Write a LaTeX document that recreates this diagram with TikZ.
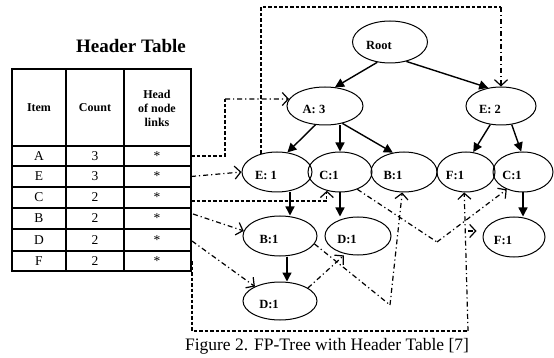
\documentclass[tikz,border=0pt]{standalone}
\usepackage{fontspec}
\setmainfont{Liberation Serif}
\usetikzlibrary{shapes.geometric,arrows.meta}
\tikzset{
  ell/.style={ellipse,draw,line width=1pt,inner sep=0pt},
  labtxt/.style={font=\bfseries\fontsize{12.5}{13}\selectfont,inner sep=0pt,xshift=-11pt,yshift=-3pt},
  lab/.style={label={[labtxt]center:#1}},
  tarr/.style={line width=1.4pt,-{Triangle[length=9pt,width=9pt]}},
  dlink/.style={dash pattern=on 3.5pt off 2pt,line width=1.2pt},
  ddlink/.style={dash pattern=on 5pt off 3pt on 1.2pt off 3pt,line width=1.2pt},
  chev/.style={-{Straight Barb[length=6pt,width=13pt,line width=1.2pt]}},
  tline/.style={line width=1.4pt},
  cell/.style={font=\fontsize{13.5}{13.5}\selectfont,inner sep=0pt},
  hcell/.style={font=\bfseries\fontsize{12}{14}\selectfont,inner sep=0pt,align=center}
}
\begin{document}
\begin{tikzpicture}[x=1pt,y=-1pt]
\useasboundingbox (0,0) rectangle (554,358);
% title
\node[font=\bfseries\fontsize{19}{19}\selectfont] (title) at (131,46) {Header Table};
% table grid
\draw[tline] (12,69) rectangle (191,271);
\foreach \yy in {146,166,187,208,229,251} \draw[tline] (12,\yy) -- (191,\yy);
\foreach \xx in {66,124} \draw[tline] (\xx,69) -- (\xx,271);
\node[hcell] (hItem) at (39,108) {Item};
\node[hcell] (hCount) at (95,108) {Count};
\node[hcell] (hHead) at (157,108) {Head\\of node\\links};
\foreach \nm/\it/\ct/\yy in {A/A/3/156,E/E/3/176.5,C/C/2/197.5,B/B/2/218.5,D/D/2/240,F/F/2/261}{
  \node[cell] (i\nm) at (39,\yy) {\it};
  \node[cell] (c\nm) at (95,\yy) {\ct};
  \node[cell] (s\nm) at (157,\yy) {*};
}
% tree nodes
\node[ell,minimum width=75pt,minimum height=42pt,lab={Root}] (root) at (390,42) {};
\node[ell,minimum width=76pt,minimum height=38pt,lab={A: 3}] (A3) at (325,106) {};
\node[ell,minimum width=70pt,minimum height=38pt,lab={E: 2}] (E2) at (501,106) {};
\node[ell,minimum width=70pt,minimum height=40pt,lab={E: 1}] (E1) at (277,172) {};
\node[ell,minimum width=64pt,minimum height=40pt,lab={C:1}] (C1) at (340,172) {};
\node[ell,minimum width=66pt,minimum height=40pt,lab={B:1}] (B1a) at (404,172) {};
\node[ell,minimum width=58pt,minimum height=40pt,lab={F:1}] (F1a) at (466,172) {};
\node[ell,minimum width=60pt,minimum height=40pt,lab={C:1}] (C1b) at (523,172) {};
\node[ell,minimum width=74pt,minimum height=40pt,lab={B:1}] (B1b) at (280,236) {};
\node[ell,minimum width=66pt,minimum height=38pt,lab={D:1}] (D1a) at (358,236) {};
\node[ell,minimum width=62pt,minimum height=40pt,lab={F:1}] (F1b) at (514,237) {};
\node[ell,minimum width=74pt,minimum height=38pt,lab={D:1}] (D1b) at (280,301) {};
% tree edges
\draw[tarr] (root.238) -- (A3.62);
\draw[tarr] (root.310) -- (E2.125);
\draw[tarr] (A3.243) -- (E1.62);
\draw[tarr] (A3.south -| C1.north) -- (C1.north);
\draw[tarr] (A3.315) -- (B1a.120);
\draw[tarr] (E2.240) -- (F1a.70);
\draw[tarr] (E2.300) -- (C1b.95);
\draw[tarr] (E1.south -| B1b.north) ++(10,0) coordinate (eb) -- (eb |- B1b.north);
\draw[tarr] (C1.south) -- (D1a.north -| C1.south);
\draw[tarr] (C1b.south) -- (F1b.north -| C1b.south);
\draw[tarr] (B1b.south) ++(7,0) coordinate (bd) -- (bd |- D1b.north);
% coordinates for node links
\coordinate (tA) at (191,156);
\coordinate (tE) at (191,176.5);
\coordinate (tC) at (191,201);
\coordinate (tB) at (193,214);
\coordinate (tD) at (192,241);
\coordinate (tF) at (192,261);
\coordinate (kA) at (225,99);
\coordinate (kE) at (501,7);
\coordinate (kC) at (437,242);
\coordinate (kB) at (390,305);
\coordinate (kF) at (468,331);
\coordinate (kFF) at (468,231);
% A links
\draw[dlink] (tA) -| (kA);
\draw[ddlink,chev] (kA) -- (A3.169);
% E links
\draw[ddlink,chev] (tE) -- (E1.west);
\draw[dlink] (E1.131) |- (kE);
\draw[ddlink,chev] (kE) -- (E2.north);
% C links
\draw[dlink,chev] (tC) -| (C1.235);
\draw[ddlink] (C1.315) -- (kC);
\draw[ddlink,chev] (kC) -- (C1b.227);
% B links
\draw[ddlink,chev] (tB) -- (B1b.172);
\draw[ddlink] (B1b.347) -- (kB);
\draw[ddlink,chev] (kB) -- (B1a.265);
% D links
\draw[ddlink,chev] (tD) -- (D1b.150);
\draw[ddlink,chev,shorten >=2pt] (D1b.25) -- (D1a.235);
% F links
\draw[dlink] (tF) |- (kF);
\draw[ddlink,chev] (kF) -- (F1a.265);
\draw[ddlink,chev,shorten >=6pt] (kFF) -- (F1b.west |- kFF);
% caption
\node[font=\fontsize{17.5}{17.5}\selectfont] (cap) at (327,346) {Figure 2. FP-Tree with Header Table [7]};
\end{tikzpicture}
\end{document}
